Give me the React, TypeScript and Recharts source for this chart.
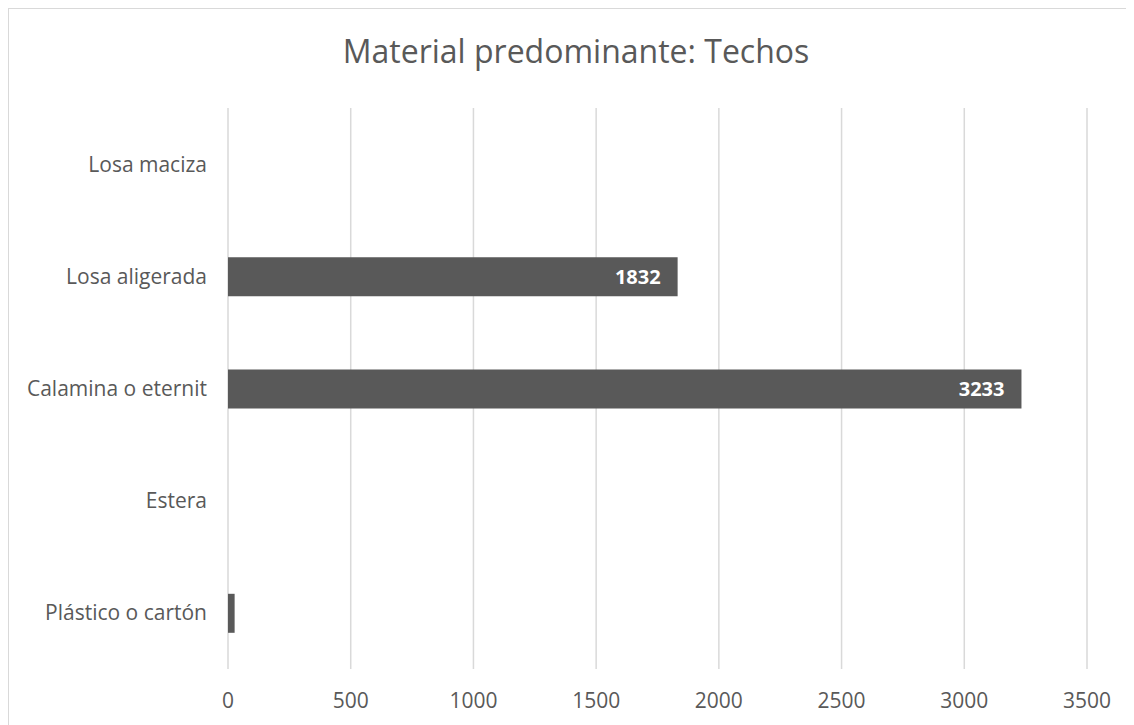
import { BarChart, Bar, XAxis, YAxis, CartesianGrid, LabelList } from "recharts"

const categories = ["Losa maciza", "Losa aligerada", "Calamina o eternit", "Estera", "Plástico o cartón"]
const values = [0, 1832, 3233, 0, 27]
const xTicks = [0, 500, 1000, 1500, 2000, 2500, 3000, 3500]

const data = categories.map((name, i) => ({ name, value: values[i] }))

const FONT = "'Open Sans', sans-serif"

// only show labels on bars wide enough to hold them
const renderLabel = (props: any) => {
  const { x, y, width, height, value } = props
  if (!value || width < 60) return null
  return (
    <text
      x={x + width - 17}
      y={y + height / 2}
      textAnchor="end"
      dominantBaseline="central"
      fill="#ffffff"
      fontWeight={700}
      fontSize={20}
      fontFamily={FONT}
    >
      {value}
    </text>
  )
}

export default function App() {
  return (
    <div
      style={{
        position: "relative",
        width: 1117,
        height: 720,
        overflow: "hidden",
        borderTop: "1px solid #d9d9d9",
        borderLeft: "1px solid #d9d9d9",
        background: "#fff",
        fontFamily: FONT,
      }}
    >
      <style>{`body{overflow:hidden}`}</style>
      <div
        style={{
          position: "absolute",
          top: 20,
          left: 4,
          width: 1126,
          textAlign: "center",
          fontSize: 32,
          color: "#595959",
          fontFamily: FONT,
          whiteSpace: "nowrap",
        }}
      >
        Material predominante: Techos
      </div>
      <BarChart
        width={1126}
        height={716}
        data={data}
        layout="vertical"
        margin={{ top: 99, right: 48, bottom: 16, left: 0 }}
        barSize={39}
      >
        <CartesianGrid horizontal={false} stroke="#d9d9d9" strokeWidth={1.5} />
        <XAxis
          type="number"
          domain={[0, 3500]}
          ticks={xTicks}
          axisLine={false}
          tickLine={false}
          tickSize={0}
          tickMargin={24}
          height={40}
          tick={{ fill: "#595959", fontSize: 21, fontFamily: FONT }}
        />
        <YAxis
          type="category"
          dataKey="name"
          width={219}
          axisLine={false}
          tickLine={false}
          tickSize={0}
          tickMargin={21}
          tick={{ fill: "#595959", fontSize: 21, fontFamily: FONT }}
        />
        <Bar dataKey="value" fill="#595959" isAnimationActive={false}>
          <LabelList dataKey="value" content={renderLabel} />
        </Bar>
      </BarChart>
    </div>
  )
}
